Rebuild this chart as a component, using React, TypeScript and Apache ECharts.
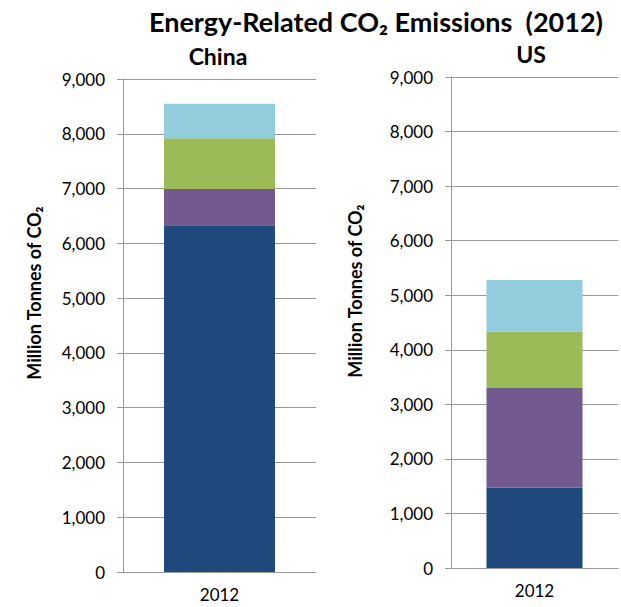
import React, { useEffect, useRef } from "react";
import * as echarts from "echarts";

const categories = ["2012"];
const segmentNames = ["Segment 1", "Segment 2", "Segment 3", "Segment 4"];
const chinaValues = [6330, 660, 930, 630];
const usValues = [1470, 1830, 1030, 950];
const segmentColors = ["#1F497D", "#725A91", "#9BBB59", "#93CDDD"];
const yTicks = { min: 0, max: 9000, interval: 1000 };

const FONT = "Lato, 'Noto Sans', sans-serif";

export default function App() {
  const ref = useRef<HTMLDivElement>(null);
  useEffect(() => {
    if (!ref.current) return;
    const chart = echarts.init(ref.current, undefined, { renderer: "svg" });
    const grids = [
      { left: 123, top: 79, width: 193, height: 493 },
      { left: 451, top: 77, width: 167, height: 491 },
    ];
    const xAxes = grids.map((_, i) => ({
      type: "category",
      gridIndex: i,
      data: categories,
      axisLine: { show: true, lineStyle: { color: "#999999", width: 1 } },
      axisTick: { show: false },
      axisLabel: { color: "#000", fontFamily: FONT, fontSize: 17, margin: 14 },
    }));
    const yAxes = grids.map((_, i) => ({
      type: "value",
      gridIndex: i,
      min: yTicks.min,
      max: yTicks.max,
      interval: yTicks.interval,
      axisLine: { show: true, lineStyle: { color: "#999999", width: 1 } },
      axisTick: { show: true, length: 6, lineStyle: { color: "#999999" } },
      splitLine: { show: true, lineStyle: { color: "#999999", width: 1 } },
      axisLabel: {
        color: "#000",
        fontFamily: FONT,
        fontSize: 17,
        margin: 18,
        formatter: (v: number) => v.toLocaleString("en-US"),
      },
    }));
    const series: any[] = [];
    [chinaValues, usValues].forEach((vals, gi) => {
      vals.forEach((v, si) => {
        series.push({
          type: "bar",
          name: segmentNames[si],
          xAxisIndex: gi,
          yAxisIndex: gi,
          stack: "total" + gi,
          barWidth: "57.5%",
          itemStyle: { color: segmentColors[si] },
          data: [v],
        });
      });
    });
    const axisName = (x: number, y: number) => ({
      type: "text",
      x,
      y,
      rotation: Math.PI / 2,
      style: {
        text: "Million Tonnes of CO₂",
        fontFamily: FONT,
        fontWeight: "bold",
        fontSize: 18,
        fill: "#000",
        align: "center",
        verticalAlign: "middle",
      },
    });
    chart.setOption({
      animation: false,
      backgroundColor: "#ffffff",
      grid: grids,
      xAxis: xAxes,
      yAxis: yAxes,
      series,
      graphic: [
        {
          type: "text",
          x: 376,
          y: 21,
          style: {
            text: "Energy-Related CO₂ Emissions  (2012)",
            fontFamily: FONT,
            fontWeight: "bold",
            fontSize: 27,
            fill: "#000",
            align: "center",
            verticalAlign: "middle",
          },
        },
        {
          type: "text",
          x: 218,
          y: 56,
          style: {
            text: "China",
            fontFamily: FONT,
            fontWeight: "bold",
            fontSize: 23,
            fill: "#000",
            align: "center",
            verticalAlign: "middle",
          },
        },
        {
          type: "text",
          x: 531,
          y: 54,
          style: {
            text: "US",
            fontFamily: FONT,
            fontWeight: "bold",
            fontSize: 23,
            fill: "#000",
            align: "center",
            verticalAlign: "middle",
          },
        },
        axisName(34, 293),
        axisName(355, 291),
      ],
    });
    return () => chart.dispose();
  }, []);
  return (
    <div
      ref={ref}
      style={{ position: "fixed", left: 0, top: 0, width: 621, height: 607 }}
    />
  );
}
